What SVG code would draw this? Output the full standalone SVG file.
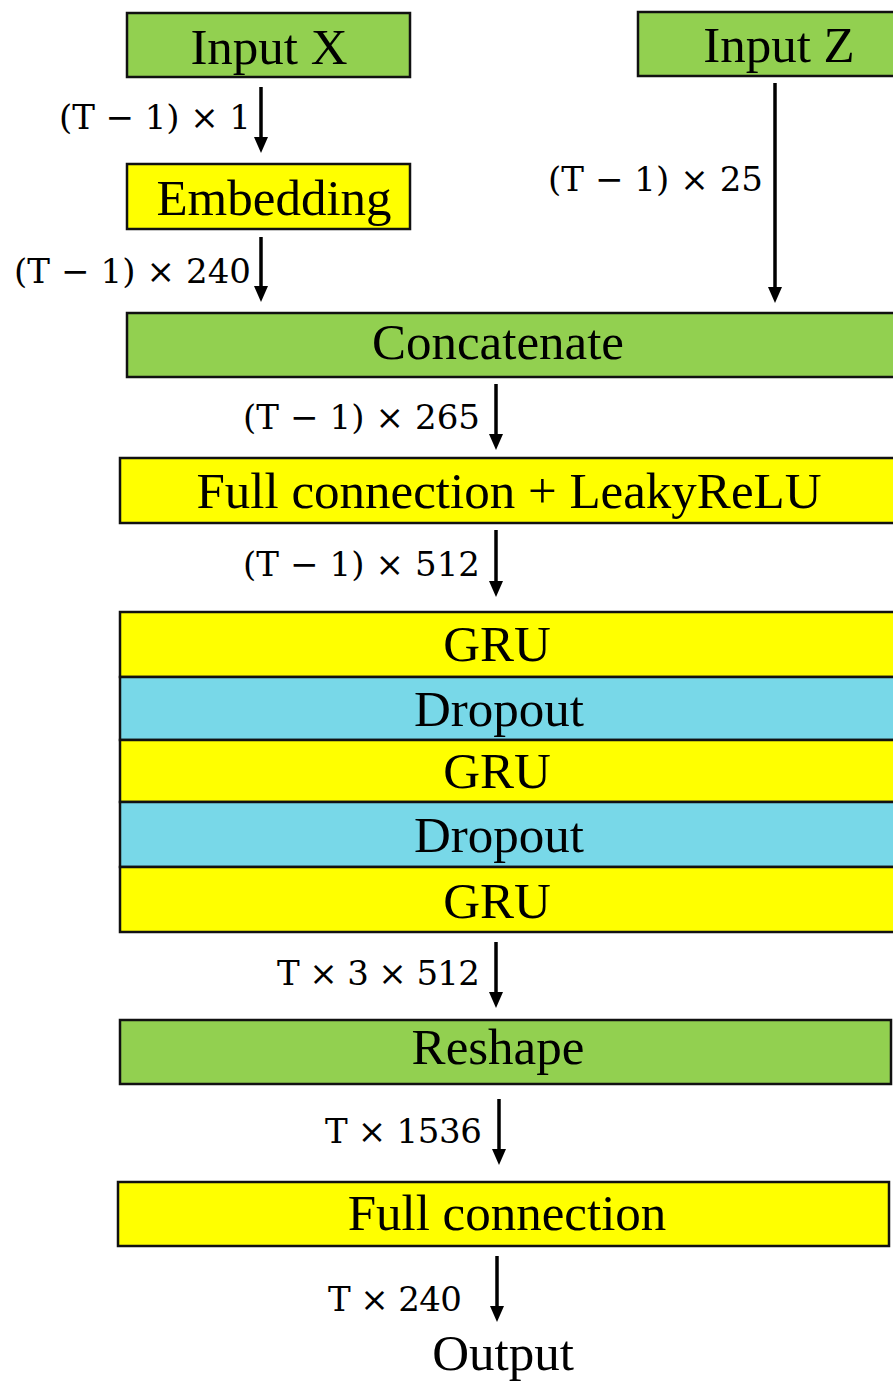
<svg xmlns="http://www.w3.org/2000/svg" width="893" height="1384" viewBox="0 0 893 1384">
  <style>
    .box { stroke: #111; stroke-width: 2.5; }
    .green { fill: #92D050; }
    .yellow { fill: #FFFF00; }
    .cyan { fill: #78D8E8; }
    .name { font-family: "Liberation Serif", "Times New Roman", serif; font-size: 51px; fill: #000; text-anchor: middle; }
    .dim { font-family: "DejaVu Serif", "Liberation Serif", serif; font-size: 34px; fill: #000; text-anchor: end; }
    .wire { stroke: #000; stroke-width: 3.5; fill: none; marker-end: url(#head); }
  </style>
  <defs>
    <marker id="head" markerUnits="userSpaceOnUse" markerWidth="16" markerHeight="14" viewBox="0 0 16 14" refX="2" refY="7" orient="auto">
      <path d="M0,0 L16,7 L0,14 z" fill="#000"/>
    </marker>
  </defs>
  <rect width="893" height="1384" fill="#fff"/>

  <g id="input-x">
    <rect class="box green" x="127" y="13" width="283" height="64"/>
    <text class="name" x="269" y="64">Input X</text>
  </g>
  <g id="input-z">
    <rect class="box green" x="638" y="12" width="270" height="64"/>
    <text class="name" x="779" y="62">Input Z</text>
  </g>
  <g id="embedding">
    <rect class="box yellow" x="127" y="164" width="283" height="65"/>
    <text class="name" x="274" y="215">Embedding</text>
  </g>
  <g id="concatenate">
    <rect class="box green" x="127" y="313" width="780" height="64"/>
    <text class="name" x="498" y="359">Concatenate</text>
  </g>
  <g id="fc-leaky">
    <rect class="box yellow" x="120" y="458" width="787" height="65"/>
    <text class="name" x="509" y="508">Full connection + LeakyReLU</text>
  </g>
  <g id="gru-1">
    <rect class="box yellow" x="120" y="612" width="787" height="65"/>
    <text class="name" x="497" y="661">GRU</text>
  </g>
  <g id="dropout-1">
    <rect class="box cyan" x="120" y="677" width="787" height="63"/>
    <text class="name" x="499" y="726">Dropout</text>
  </g>
  <g id="gru-2">
    <rect class="box yellow" x="120" y="740" width="787" height="62"/>
    <text class="name" x="497" y="788">GRU</text>
  </g>
  <g id="dropout-2">
    <rect class="box cyan" x="120" y="802" width="787" height="65"/>
    <text class="name" x="499" y="852">Dropout</text>
  </g>
  <g id="gru-3">
    <rect class="box yellow" x="120" y="867" width="787" height="65"/>
    <text class="name" x="497" y="918">GRU</text>
  </g>
  <g id="reshape">
    <rect class="box green" x="120" y="1020" width="771" height="64"/>
    <text class="name" x="498" y="1064">Reshape</text>
  </g>
  <g id="fc-out">
    <rect class="box yellow" x="118" y="1182" width="771" height="64"/>
    <text class="name" x="507" y="1230">Full connection</text>
  </g>
  <g id="output">
    <text class="name" x="503" y="1370">Output</text>
  </g>

  <g id="connectors">
    <line class="wire" x1="261" y1="87" x2="261" y2="139"/>
    <line class="wire" x1="261" y1="237" x2="261" y2="288"/>
    <line class="wire" x1="775" y1="83" x2="775" y2="289"/>
    <line class="wire" x1="496" y1="384" x2="496" y2="436"/>
    <line class="wire" x1="496" y1="530" x2="496" y2="583"/>
    <line class="wire" x1="496" y1="942" x2="496" y2="994"/>
    <line class="wire" x1="499" y1="1099" x2="499" y2="1151"/>
    <line class="wire" x1="497" y1="1256" x2="497" y2="1308"/>

    <text class="dim" x="251" y="129" textLength="192" lengthAdjust="spacing">(T − 1) × 1</text>
    <text class="dim" x="251" y="283" textLength="237" lengthAdjust="spacing">(T − 1) × 240</text>
    <text class="dim" x="763" y="191" textLength="215" lengthAdjust="spacing">(T − 1) × 25</text>
    <text class="dim" x="480" y="429" textLength="237" lengthAdjust="spacing">(T − 1) × 265</text>
    <text class="dim" x="480" y="576" textLength="237" lengthAdjust="spacing">(T − 1) × 512</text>
    <text class="dim" x="480" y="985" textLength="203" lengthAdjust="spacing">T × 3 × 512</text>
    <text class="dim" x="482" y="1143" textLength="157" lengthAdjust="spacing">T × 1536</text>
    <text class="dim" x="462" y="1311" textLength="134" lengthAdjust="spacing">T × 240</text>
  </g>
</svg>
